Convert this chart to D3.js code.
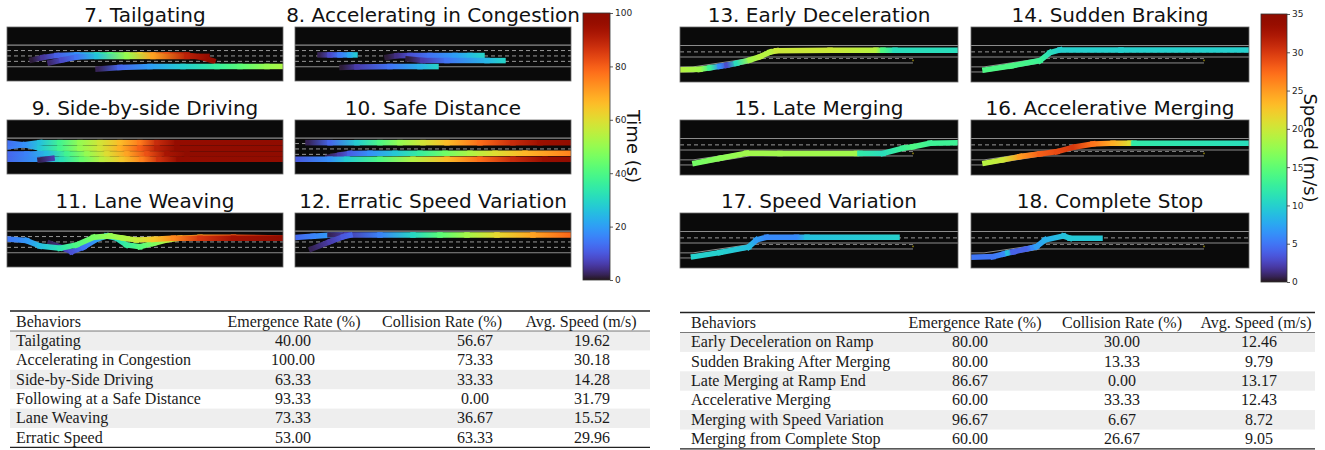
<!DOCTYPE html>
<html><head><meta charset="utf-8">
<script src="https://cdn.jsdelivr.net/npm/d3@7"></script>
<style>body{margin:0;background:#fff}svg{display:block}</style>
</head><body>
<svg id="c" width="1325" height="450"></svg>
<script>
// ---------------- DATA ----------------
const leftTitles = ["7. Tailgating", "8. Accelerating in Congestion", "9. Side-by-side Driving",
  "10. Safe Distance", "11. Lane Weaving", "12. Erratic Speed Variation"];
const rightTitles = ["13. Early Deceleration", "14. Sudden Braking", "15. Late Merging",
  "16. Accelerative Merging", "17. Speed Variation", "18. Complete Stop"];

// road geometry (metres): x along road, y lateral offset
const leftRoadX = [0, 552];
const leftRoadY = [-19.3, 16.7];
const leftSolidLines = [-7.2, 7.2];
const leftDashedLines = [-3.6, 0, 3.6];
const rightRoadX = [0, 556];
const rightRoadY = [-19.3, 17.4];
const rightSolidLines = [-7.0, 0.7];
const rightDashedLines = [-2.7];
const rampUpperEdge = [[0, 7.3], [26, 7.3], [140, 1.7]];
const rampLowerEdge = [[0, 10.7], [26, 10.7], [140, 4.7], [466, 4.7]];
const rampDashed = [[150, 1.7], [466, 1.7]];
const rampEndMark = [466, 3.0];

// colour scales
const timeTicks = [0, 20, 40, 60, 80, 100];
const speedTicks = [0, 5, 10, 15, 20, 25, 30, 35];

// trajectories: [x (m), y (m), time (s)]
const traj7a = [[50,2.7,1],[72,1.0,5],[100,-0.3,11],[140,-0.7,18],[180,-0.7,30],[206,-0.7,40],[240,-0.7,52],[266,-0.7,62],[292,-0.7,72],[320,-0.7,82],[360,-0.7,92],[386,0.7,96],[412,3.3,99]];
const traj7b = [[86,4.5,3],[110,2.7,8],[140,0.7,14],[180,0.3,26],[240,0.3,50],[292,0.3,70],[360,0.3,90],[400,0.3,97]];
const traj7c = [[182,8.7,2],[226,7.7,12],[286,7.1,20],[352,7.0,28],[420,7.0,36],[466,7.0,42],[520,7.0,50],[552,7.0,53]];

const traj8a = [[50,-0.7,2],[70,-0.7,8],[90,-0.7,15],[110,-0.7,22],[120,-0.7,27]];
const traj8b = [[184,0.9,1],[204,-0.2,4],[230,-0.3,9],[270,-0.3,14],[320,-0.3,20],[350,-0.3,25],[374,-0.3,29]];
const traj8c = [[226,2.0,1],[256,3.0,6],[304,3.1,14],[384,3.1,24],[416,3.1,29]];
const traj8d = [[94,7.7,1],[124,7.3,6],[190,7.1,14],[250,7.1,23],[282,7.1,29]];

const traj9a = [[0,-1.3,14],[30,-2.7,18],[66,-4.2,26],[106,-4.2,38],[146,-4.2,50],[186,-4.2,58],[226,-4.2,66],[266,-4.2,76],[300,-4.2,88],[340,-4.2,97],[552,-4.2,100]];
const traj9b = [[0,-4.0,13],[36,-2.7,18],[66,-0.5,27],[106,-0.5,38],[146,-0.5,50],[186,-0.5,58],[226,-0.5,68],[266,-0.5,80],[300,-0.5,90],[340,-0.5,98],[552,-0.5,100]];
const traj9c = [[0,3.3,12],[40,3.3,16],[80,3.0,25],[120,3.3,38],[160,3.3,50],[200,3.3,60],[240,3.3,70],[280,3.3,82],[320,3.3,93],[360,3.3,99],[552,3.3,100]];
const traj9d = [[0,6.9,12],[70,6.9,20],[110,6.9,32],[150,6.9,44],[190,6.9,55],[230,6.9,64],[270,6.9,75],[304,6.9,87],[344,6.9,97],[552,6.9,100]];
const traj9e = [[0,6.0,10],[30,5.0,15],[60,3.5,20]];
const traj9f = [[66,7.3,2],[90,6.3,6]];

const traj10a = [[26,-4.2,2],[70,-4.2,12],[124,-4.2,28],[170,-4.2,40],[210,-4.2,50],[256,-4.2,58],[304,-4.2,66],[370,-4.2,78],[436,-4.2,88],[490,-4.2,95],[550,-4.2,99]];
const traj10b = [[66,5.5,2],[90,4.0,6],[110,3.0,11],[150,2.9,18],[200,2.9,27],[250,2.9,36],[300,2.9,45],[350,2.9,53],[400,2.9,60],[460,2.9,67],[550,2.9,75]];
const traj10c = [[0,6.9,10],[70,6.9,18],[104,6.9,28],[170,6.9,40],[236,6.9,54],[304,6.9,66],[370,6.9,78],[436,6.9,88],[500,6.9,96],[550,6.9,99]];

const traj11a = [[86,0.9,2],[113,4.2,6],[129,6.5,9],[153,3.5,14],[179,-1.8,20],[199,-4.0,25],[219,-2.5,30],[239,2.0,36],[266,3.1,41],[293,0.9,47],[319,-1.3,54],[346,-2.5,62],[386,-3.1,70],[453,-3.1,80],[549,-2.7,90]];
const traj11b = [[0,-2.0,14],[39,-0.9,19],[66,2.7,25],[106,4.2,33],[139,2.0,40],[173,-3.1,46],[206,-4.0,50],[233,-2.5,53],[259,-1.3,56],[293,-1.8,64],[333,-2.5,74],[386,-2.5,86],[453,-2.5,94],[549,-2.5,99]];

const traj12a = [[0,-3.0,12],[36,-3.8,16],[70,-4.5,20],[90,-4.7,22]];
const traj12b = [[70,-4.7,2],[104,-4.7,6],[170,-4.7,16],[236,-4.7,30],[290,-4.7,42],[344,-4.7,52],[404,-4.7,61],[476,-4.7,70],[550,-4.7,79]];
const traj12c = [[33,4.7,2],[70,-0.2,6],[97,-3.5,10],[110,-4.5,12]];

// trajectories: [x (m), y (m), speed (m/s)]
const traj13 = [[0,9.3,19],[40,8.9,18],[60,7.9,13],[80,6.9,6],[94,6.2,3],[113,4.9,11],[140,2.7,18],[160,0.5,19],[180,-2.5,19],[193,-3.5,20],[300,-3.8,20],[392,-3.8,19],[406,-3.8,14],[430,-3.8,11],[556,-3.8,11]];
const traj14 = [[28,9.3,14],[80,6.7,14],[138,3.1,13],[158,-2.2,11],[178,-4.0,10],[300,-4.0,10],[556,-4.0,10]];
const traj15 = [[30,9.5,16],[80,6.2,17],[133,2.9,18],[200,3.0,18],[353,3.0,18],[360,3.0,12],[406,3.0,11],[446,-0.5,13],[466,-1.5,14],[500,-3.8,13],[556,-4.2,13]];
const traj16 = [[28,9.5,19],[64,7.3,20],[98,5.1,25],[138,3.3,28],[172,1.8,29],[204,-1.1,30],[244,-3.3,27],[284,-3.8,24],[318,-3.8,21],[326,-3.8,12],[556,-3.8,11]];
const traj17 = [[27,9.8,10],[80,7.1,10],[137,3.5,9],[153,-1.3,7],[173,-3.1,6],[233,-3.1,6],[254,-3.1,9],[434,-3.1,10]];
const traj18 = [[0,10.2,5],[44,9.8,5],[66,8.0,6],[74,7.3,9],[84,6.7,4],[111,4.7,4],[124,3.7,6],[131,3.1,7],[148,-1.3,8],[185,-4.0,9],[198,-2.5,9.5],[258,-2.5,9.5]];

const leftPanelTrajs = [[traj7a, traj7b, traj7c], [traj8a, traj8b, traj8c, traj8d],
  [traj9e, traj9a, traj9b, traj9c, traj9d, traj9f], [traj10a, traj10b, traj10c],
  [traj11a, traj11b], [traj12a, traj12b, traj12c]];
const rightPanelTrajs = [[traj13], [traj14], [traj15], [traj16], [traj17], [traj18]];

// tables
const tableHeaders = ["Behaviors", "Emergence Rate (%)", "Collision Rate (%)", "Avg. Speed (m/s)"];
const leftBehaviors = ["Tailgating", "Accelerating in Congestion", "Side-by-Side Driving",
  "Following at a Safe Distance", "Lane Weaving", "Erratic Speed"];
const leftEmergence = ["40.00", "100.00", "63.33", "93.33", "73.33", "53.00"];
const leftCollision = ["56.67", "73.33", "33.33", "0.00", "36.67", "63.33"];
const leftAvgSpeed = ["19.62", "30.18", "14.28", "31.79", "15.52", "29.96"];
const rightBehaviors = ["Early Deceleration on Ramp", "Sudden Braking After Merging", "Late Merging at Ramp End",
  "Accelerative Merging", "Merging with Speed Variation", "Merging from Complete Stop"];
const rightEmergence = ["80.00", "80.00", "86.67", "60.00", "96.67", "60.00"];
const rightCollision = ["30.00", "13.33", "0.00", "33.33", "6.67", "26.67"];
const rightAvgSpeed = ["12.46", "9.79", "13.17", "12.43", "8.72", "9.05"];

// ---------------- DRAWING ----------------
const svg = d3.select("#c");
const defs = svg.append("defs");
const FONT = "'DejaVu Sans', sans-serif";
let gid = 0;

function drawTraj(g, pts, xs, ys, cmax) {
  for (let i = 0; i < pts.length - 1; i++) {
    const a = pts[i], b = pts[i + 1];
    const id = "sg" + (gid++);
    const x1 = xs(a[0]), y1 = ys(a[1]), x2 = xs(b[0]), y2 = ys(b[1]);
    const lg = defs.append("linearGradient").attr("id", id).attr("gradientUnits", "userSpaceOnUse")
      .attr("x1", x1).attr("y1", y1).attr("x2", x2).attr("y2", y2);
    lg.append("stop").attr("offset", 0).attr("stop-color", d3.interpolateTurbo(a[2] / cmax));
    lg.append("stop").attr("offset", 1).attr("stop-color", d3.interpolateTurbo(b[2] / cmax));
    g.append("line").attr("x1", x1).attr("y1", y1).attr("x2", x2).attr("y2", y2)
      .attr("stroke", `url(#${id})`).attr("stroke-width", 5.5).attr("stroke-linecap", "square");
  }
}

function panel(px, py, w, h, title, xd, yd, drawRoad, trajs, cmax) {
  const xs = d3.scaleLinear().domain(xd).range([px, px + w]);
  const ys = d3.scaleLinear().domain(yd).range([py, py + h]);
  const cid = "cp" + (gid++);
  defs.append("clipPath").attr("id", cid).append("rect").attr("x", px).attr("y", py).attr("width", w).attr("height", h);
  const g = svg.append("g");
  g.append("rect").attr("x", px).attr("y", py).attr("width", w).attr("height", h).attr("fill", "#0a0a0a");
  const inner = g.append("g").attr("clip-path", `url(#${cid})`);
  drawRoad(inner, xs, ys);
  trajs.forEach(t => drawTraj(inner, t, xs, ys, cmax));
  g.append("rect").attr("x", px).attr("y", py).attr("width", w).attr("height", h)
    .attr("fill", "none").attr("stroke", "#6a6a6a").attr("stroke-width", 0.8);
  svg.append("text").attr("x", px + w / 2).attr("y", py - 5.5).attr("text-anchor", "middle")
    .attr("font-family", FONT).attr("font-size", 20).attr("fill", "#111").text(title);
}

function leftRoad(g, xs, ys) {
  leftSolidLines.forEach(y => g.append("line").attr("x1", xs(leftRoadX[0])).attr("x2", xs(leftRoadX[1]))
    .attr("y1", ys(y)).attr("y2", ys(y)).attr("stroke", "#8c8c8c").attr("stroke-width", 1.1));
  leftDashedLines.forEach(y => g.append("line").attr("x1", xs(leftRoadX[0])).attr("x2", xs(leftRoadX[1]))
    .attr("y1", ys(y)).attr("y2", ys(y)).attr("stroke", "#bdbdbd").attr("stroke-width", 0.8)
    .attr("stroke-dasharray", "4,3"));
}
function rightRoad(g, xs, ys) {
  const line = d3.line().x(d => xs(d[0])).y(d => ys(d[1]));
  rightSolidLines.forEach(y => g.append("line").attr("x1", xs(rightRoadX[0])).attr("x2", xs(rightRoadX[1]))
    .attr("y1", ys(y)).attr("y2", ys(y)).attr("stroke", "#8c8c8c").attr("stroke-width", 1.1));
  rightDashedLines.forEach(y => g.append("line").attr("x1", xs(rightRoadX[0])).attr("x2", xs(rightRoadX[1]))
    .attr("y1", ys(y)).attr("y2", ys(y)).attr("stroke", "#bdbdbd").attr("stroke-width", 0.8)
    .attr("stroke-dasharray", "4,3"));
  g.append("path").attr("d", line(rampUpperEdge)).attr("fill", "none").attr("stroke", "#8c8c8c").attr("stroke-width", 1);
  g.append("path").attr("d", line(rampLowerEdge)).attr("fill", "none").attr("stroke", "#8c8c8c").attr("stroke-width", 1);
  g.append("path").attr("d", line(rampDashed)).attr("fill", "none").attr("stroke", "#9a9a9a").attr("stroke-width", 0.8)
    .attr("stroke-dasharray", "4,3");
  g.append("rect").attr("x", xs(rampEndMark[0]) - 0.8).attr("y", ys(rampEndMark[1]) - 0.8)
    .attr("width", 1.6).attr("height", 1.6).attr("fill", "#8a7d10");
}

const rowsY = [27, 120, 213];
const leftCols = [7, 295], rightCols = [680, 971];
for (let i = 0; i < 6; i++) {
  const r = Math.floor(i / 2), c = i % 2;
  panel(leftCols[c], rowsY[r], 276, 54, leftTitles[i], leftRoadX, leftRoadY, leftRoad, leftPanelTrajs[i], 100);
  panel(rightCols[c], rowsY[r], 278, 55, rightTitles[i], rightRoadX, rightRoadY, rightRoad, rightPanelTrajs[i], 35);
}

// colorbars
function colorbar(x, y0, y1, w, maxV, ticks, label, labelX) {
  const id = "cb" + (gid++);
  const lg = defs.append("linearGradient").attr("id", id).attr("x1", 0).attr("y1", 1).attr("x2", 0).attr("y2", 0);
  d3.range(0, 1.0001, 0.02).forEach(t => lg.append("stop").attr("offset", t).attr("stop-color", d3.interpolateTurbo(t)));
  svg.append("rect").attr("x", x).attr("y", y0).attr("width", w).attr("height", y1 - y0)
    .attr("fill", `url(#${id})`).attr("stroke", "#333").attr("stroke-width", 0.8);
  const sc = d3.scaleLinear().domain([0, maxV]).range([y1, y0]);
  const ax = svg.append("g").attr("transform", `translate(${x + w},0)`)
    .call(d3.axisRight(sc).tickValues(ticks).tickSize(3).tickPadding(2));
  ax.select(".domain").remove();
  ax.selectAll("line").attr("stroke", "#333").attr("stroke-width", 0.8);
  ax.selectAll("text").attr("font-family", FONT).attr("font-size", 9).attr("fill", "#262626");
  svg.append("text").attr("transform", `translate(${labelX},${(y0 + y1) / 2}) rotate(90)`)
    .attr("text-anchor", "middle").attr("dy", "0.35em").attr("font-family", FONT).attr("font-size", 18)
    .attr("fill", "#111").text(label);
}
colorbar(583, 13, 280, 27, 100, timeTicks, "Time (s)", 633);
colorbar(1261, 14, 282, 26, 35, speedTicks, "Speed (m/s)", 1310);

// tables
function table(x0, x1, top, behaviors, em, col, spd, headX, valX) {
  const g = svg.append("g").attr("font-family", "'Liberation Serif','Times New Roman',serif")
    .attr("font-size", 16).attr("fill", "#1a1a1a");
  const rowH = 19.4, hdrBase = top + 15.5, hdrRule = top + 20;
  behaviors.forEach((b, i) => {
    const cy = hdrRule + rowH * (i + 0.5);
    if (i % 2 === 0) g.append("rect").attr("x", x0).attr("y", hdrRule + rowH * i).attr("width", x1 - x0)
      .attr("height", rowH).attr("fill", "#eeeeee");
    g.append("text").attr("x", headX[0]).attr("y", cy + 5).text(b);
    [em, col, spd].forEach((arr, k) => g.append("text").attr("x", valX[k]).attr("y", cy + 5)
      .attr("text-anchor", "middle").text(arr[i]));
  });
  g.append("text").attr("x", headX[0]).attr("y", hdrBase).text(tableHeaders[0]);
  for (let k = 1; k < 4; k++) g.append("text").attr("x", headX[k]).attr("y", hdrBase)
    .attr("text-anchor", "middle").text(tableHeaders[k]);
  const bottom = hdrRule + rowH * behaviors.length;
  g.append("line").attr("x1", x0).attr("x2", x1).attr("y1", top).attr("y2", top).attr("stroke", "#222").attr("stroke-width", 1.3);
  g.append("line").attr("x1", x0).attr("x2", x1).attr("y1", hdrRule).attr("y2", hdrRule).attr("stroke", "#444").attr("stroke-width", 0.7);
  g.append("line").attr("x1", x0).attr("x2", x1).attr("y1", bottom).attr("y2", bottom).attr("stroke", "#222").attr("stroke-width", 1.3);
}
table(10, 650, 311, leftBehaviors, leftEmergence, leftCollision, leftAvgSpeed,
  [16, 294, 442, 581], [293, 475, 592]);
table(680, 1315, 312.5, rightBehaviors, rightEmergence, rightCollision, rightAvgSpeed,
  [691, 975, 1122, 1256], [970, 1122, 1259]);
</script>
</body></html>
